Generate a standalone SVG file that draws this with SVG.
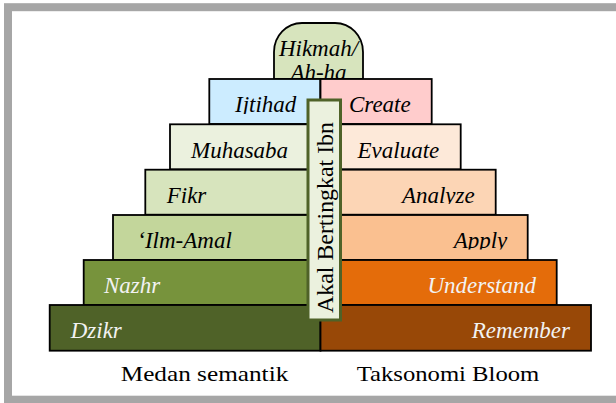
<svg xmlns="http://www.w3.org/2000/svg" width="616" height="403" viewBox="0 0 616 403">
<style>
.box{stroke:#000;stroke-width:1.8}
</style>
<defs>
<clipPath id="c1"><rect x="200" y="79" width="240" height="35"/></clipPath>
<clipPath id="c3"><rect x="140" y="170" width="360" height="34"/></clipPath>
<clipPath id="c4"><rect x="110" y="215" width="420" height="34.5"/></clipPath>
</defs>
<rect x="8" y="7.2" width="620" height="392.5" fill="#fff" stroke="#a6a6a6" stroke-width="8"/>
<g id="hikmah">
<path d="M274,79 V52 A28,29 0 0 1 302,23 H335 A28,29 0 0 1 363,52 V79 Z" fill="#d7e4bd" class="box"/>
<text font-family="Liberation Serif" font-style="italic" font-size="23" fill="#000" x="318.5" y="56" text-anchor="middle">Hikmah/</text>
<text font-family="Liberation Serif" font-style="italic" font-size="23" fill="#000" x="318.5" y="80" text-anchor="middle">Ah-ha</text>
</g>
<g id="ijtihad">
<rect class="box" x="209.3" y="79" width="111" height="45" fill="#ccecff"/>
<text font-family="Liberation Serif" font-style="italic" font-size="23" fill="#000" x="235" y="112" clip-path="url(#c1)">Ijtihad</text>
</g>
<g id="create">
<rect class="box" x="320.5" y="79" width="111.2" height="45" fill="#ffcccc"/>
<text font-family="Liberation Serif" font-style="italic" font-size="23" fill="#000" text-anchor="end" x="410.7" y="112">Create</text>
</g>
<g id="muhasaba">
<rect class="box" x="170" y="124.3" width="150.5" height="45" fill="#ebf1de"/>
<text font-family="Liberation Serif" font-style="italic" font-size="23" fill="#000" x="191" y="157.5">Muhasaba</text>
</g>
<g id="evaluate">
<rect class="box" x="320.5" y="124.3" width="140.2" height="45" fill="#fde9d9"/>
<text font-family="Liberation Serif" font-style="italic" font-size="23" fill="#000" text-anchor="end" x="439.3" y="157.5">Evaluate</text>
</g>
<g id="fikr">
<rect class="box" x="145.3" y="169.7" width="175.2" height="45" fill="#d7e4bd"/>
<text font-family="Liberation Serif" font-style="italic" font-size="23" fill="#000" x="166.7" y="202.5">Fikr</text>
</g>
<g id="analyze">
<rect class="box" x="320.5" y="169.7" width="175.2" height="45" fill="#fcd5b5"/>
<text font-family="Liberation Serif" font-style="italic" font-size="23" fill="#000" text-anchor="end" x="474.7" y="202.5" clip-path="url(#c3)">Analyze</text>
</g>
<g id="ilm-amal">
<rect class="box" x="113" y="215" width="207.5" height="45" fill="#c3d69b"/>
<text font-family="Liberation Serif" font-style="italic" font-size="23" fill="#000" x="137.3" y="248">‘Ilm-Amal</text>
</g>
<g id="apply">
<rect class="box" x="320.5" y="215" width="207.2" height="45" fill="#fac090"/>
<text font-family="Liberation Serif" font-style="italic" font-size="23" fill="#000" text-anchor="end" x="507.3" y="248" clip-path="url(#c4)">Apply</text>
</g>
<g id="nazhr">
<rect class="box" x="83.7" y="260" width="236.8" height="45" fill="#77933c"/>
<text font-family="Liberation Serif" font-style="italic" font-size="23" fill="#f2f2f2" x="104" y="293.3">Nazhr</text>
</g>
<g id="understand">
<rect class="box" x="320.5" y="260" width="236.2" height="45" fill="#e46c0a"/>
<text font-family="Liberation Serif" font-style="italic" font-size="23" fill="#f2f2f2" text-anchor="end" x="536" y="293.3">Understand</text>
</g>
<g id="dzikr">
<rect class="box" x="49.7" y="305" width="270.8" height="45.7" fill="#4f6228"/>
<text font-family="Liberation Serif" font-style="italic" font-size="23" fill="#f2f2f2" x="70.7" y="338.3">Dzikr</text>
</g>
<g id="remember">
<rect class="box" x="320.5" y="305" width="270.5" height="45.7" fill="#984807"/>
<text font-family="Liberation Serif" font-style="italic" font-size="23" fill="#f2f2f2" text-anchor="end" x="570" y="338">Remember</text>
</g>
<g id="akal">
<rect x="308" y="100" width="32.5" height="220" fill="#ebf1de" stroke="#4f6228" stroke-width="3"/>
<text font-family="Liberation Serif" font-size="24" fill="#000" transform="translate(333,313) rotate(-90)" textLength="191" lengthAdjust="spacingAndGlyphs">Akal Bertingkat Ibn</text>
</g>
<g id="labels">
<text font-family="Liberation Serif" font-size="22" fill="#000" x="120.7" y="381" textLength="167.6" lengthAdjust="spacingAndGlyphs">Medan semantik</text>
<text font-family="Liberation Serif" font-size="22" fill="#000" x="356.7" y="381" textLength="182.6" lengthAdjust="spacingAndGlyphs">Taksonomi Bloom</text>
</g>
<g id="connectors"/>
</svg>
